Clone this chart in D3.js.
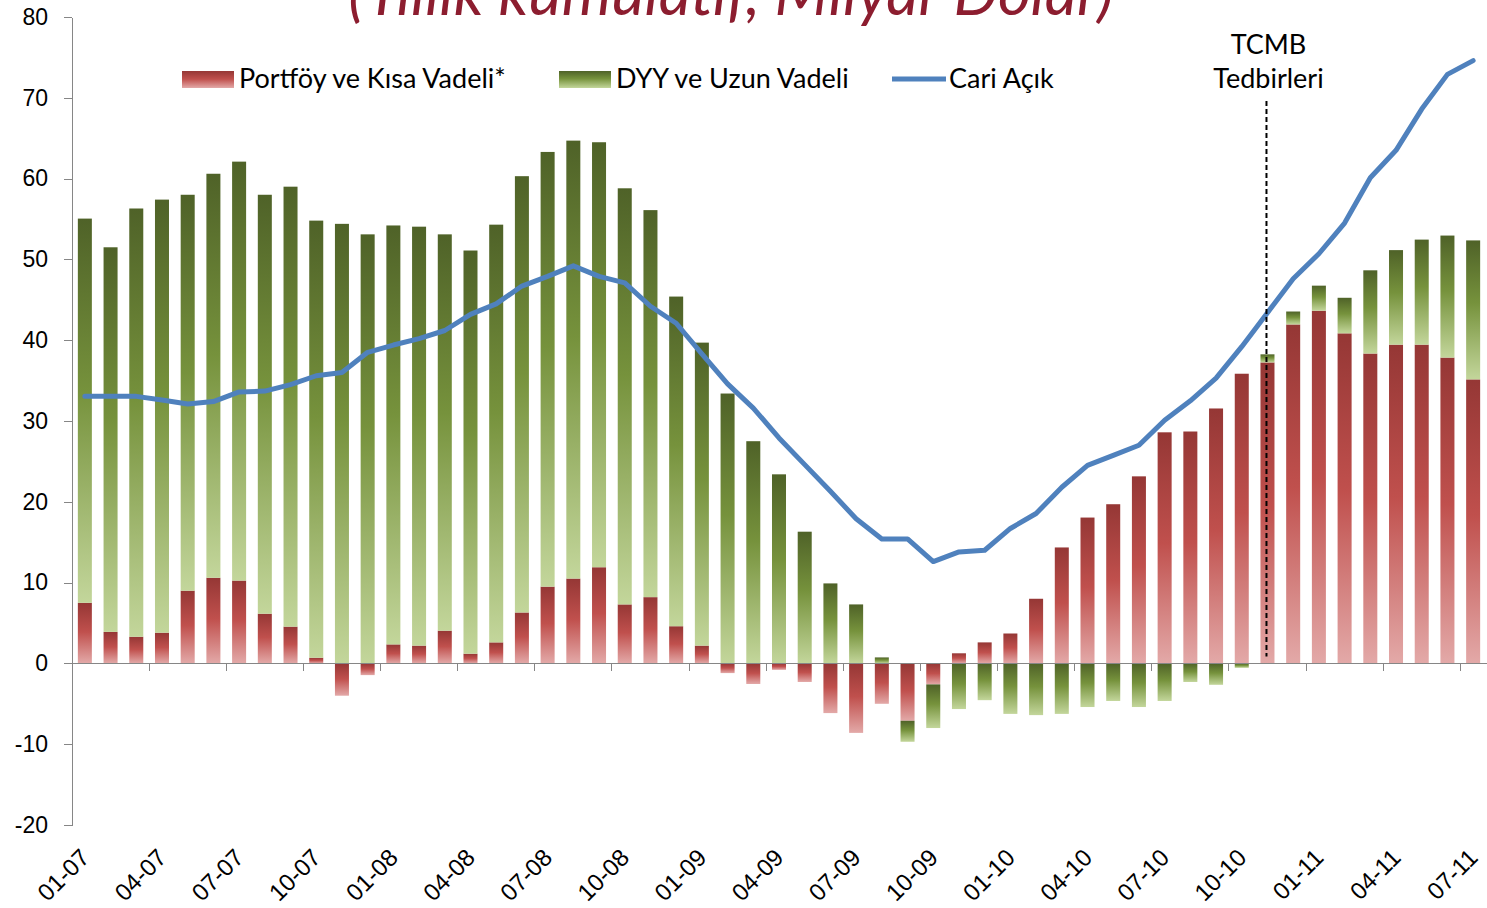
<!DOCTYPE html>
<html>
<head>
<meta charset="utf-8">
<title>Cari Açık ve Finansmanı</title>
<script src="https://d3js.org/d3.v7.min.js"></script>
<style>
    body { margin: 0; background: #fff; }
    svg { display: block; font-family: Lato, "Open Sans", sans-serif; }
    .axis path, .axis line { stroke: #868686; shape-rendering: crispEdges; }
    .axis text { fill: #000; }
</style>
</head>
<body>
<script>
//months on the category axis (MM-YY)
var months = ["01-07", "02-07", "03-07", "04-07", "05-07", "06-07", "07-07", "08-07", "09-07", "10-07", "11-07", "12-07",
    "01-08", "02-08", "03-08", "04-08", "05-08", "06-08", "07-08", "08-08", "09-08", "10-08", "11-08", "12-08",
    "01-09", "02-09", "03-09", "04-09", "05-09", "06-09", "07-09", "08-09", "09-09", "10-09", "11-09", "12-09",
    "01-10", "02-10", "03-10", "04-10", "05-10", "06-10", "07-10", "08-10", "09-10", "10-10", "11-10", "12-10",
    "01-11", "02-11", "03-11", "04-11", "05-11", "06-11", "07-11"];

//series values, billion dollars (12 month cumulative)
var portfoy = [7.5, 3.9, 3.3, 3.8, 9.0, 10.6, 10.25, 6.15, 4.55, 0.7, -4.0, -1.45,
    2.35, 2.2, 4.05, 1.2, 2.6, 6.3, 9.5, 10.5, 11.9, 7.3, 8.2, 4.6,
    2.2, -1.2, -2.55, -0.8, -2.3, -6.15, -8.6, -5.0, -7.1, -2.6, 1.25, 2.6,
    3.7, 8.0, 14.35, 18.05, 19.7, 23.15, 28.6, 28.7, 31.55, 35.85, 37.25, 41.95,
    43.65, 40.85, 38.35, 39.45, 39.45, 37.85, 35.15];
var dyy = [47.55, 47.6, 53.0, 53.6, 49.0, 50.0, 51.85, 51.85, 54.45, 54.1, 54.4, 53.1,
    51.85, 51.85, 49.05, 49.9, 51.7, 54.0, 53.8, 54.2, 52.6, 51.5, 47.9, 40.8,
    37.5, 33.4, 27.5, 23.4, 16.3, 9.9, 7.3, 0.74, -2.6, -5.4, -5.65, -4.55,
    -6.25, -6.4, -6.25, -5.4, -4.65, -5.4, -4.65, -2.3, -2.65, -0.55, 1.0, 1.6,
    3.1, 4.4, 10.3, 11.7, 13.0, 15.1, 17.2];
var cari = [33.05, 33.05, 33.05, 32.6, 32.1, 32.4, 33.6, 33.7, 34.5, 35.6, 36.0, 38.5,
    39.4, 40.2, 41.2, 43.2, 44.5, 46.7, 47.9, 49.2, 47.9, 47.1, 44.2, 42.1,
    38.3, 34.6, 31.6, 27.9, 24.6, 21.3, 17.9, 15.4, 15.4, 12.6, 13.8, 14.0,
    16.7, 18.55, 21.8, 24.5, 25.75, 27.0, 30.1, 32.5, 35.3, 39.2, 43.4, 47.6,
    50.7, 54.5, 60.1, 63.5, 68.6, 72.9, 74.6];

//axis ticks and labels
var yTicks = [-20, -10, 0, 10, 20, 30, 40, 50, 60, 70, 80];
var xLabelMonths = months.filter(function (d, i) { return i % 3 == 0; });
var seriesNames = ["Portföy ve Kısa Vadeli*", "DYY ve Uzun Vadeli", "Cari Açık"];
var titleText = "(Yıllık kümülatif, Milyar Dolar)";
var markerMonth = "11-10";
var markerLines = ["TCMB", "Tedbirleri"];

(function () {

    var width = 1487,
        height = 908;

    var plotLeft = 72,
        plotRight = 1486,
        plotTop = 17,
        plotBottom = 825;

    var svg = d3.select("body")
        .append("svg")
        .attr("width", width)
        .attr("height", height);

    //vertical gradients, dark on top and light at the bottom of each bar
    var defs = svg.append("defs");
    makeGradient(defs, "gradRed", [["0%", "#953735"], ["48%", "#C0504D"], ["100%", "#E3A9A8"]]);
    makeGradient(defs, "gradGreen", [["0%", "#4F6228"], ["45%", "#76923C"], ["100%", "#C3D69B"]]);

    var x = d3.scaleBand()
        .domain(months)
        .range([plotLeft, plotRight])
        .paddingInner(0.455)
        .paddingOuter(0.2275);

    var y = d3.scaleLinear()
        .domain([-20, 80])
        .range([plotBottom, plotTop]);

    //table for the stack layout
    var table = months.map(function (m, i) {
        return { month: m, portfoy: portfoy[i], dyy: dyy[i], cari: cari[i] };
    });

    var stack = d3.stack()
        .keys(["portfoy", "dyy"])
        .offset(d3.stackOffsetDiverging);
    var layers = stack(table);
    var fills = ["url(#gradRed)", "url(#gradGreen)"];

    //title, mostly cut off at the top as in the original
    svg.append("text")
        .attr("x", 731)
        .attr("y", 15)
        .attr("text-anchor", "middle")
        .style("font-size", "63px")
        .style("font-style", "italic")
        .style("fill", "#8C1D2F")
        .text(titleText);

    //y axis
    svg.append("g")
        .attr("class", "axis")
        .attr("transform", "translate(" + plotLeft + ",0)")
        .call(d3.axisLeft(y).tickValues(yTicks).tickSize(8).tickSizeOuter(0).tickPadding(16)
            .tickFormat(function (d) { return String(d); }))
        .call(function (g) {
            g.selectAll("text").style("font-size", "23px");
        });

    //bars
    var layerG = svg.selectAll(".layer")
        .data(layers)
        .enter()
        .append("g")
        .attr("class", "layer")
        .style("fill", function (d, i) { return fills[i]; });

    layerG.selectAll("rect")
        .data(function (d) { return d; })
        .enter()
        .append("rect")
        .attr("x", function (d) { return x(d.data.month); })
        .attr("width", x.bandwidth())
        .attr("y", function (d) { return y(Math.max(d[0], d[1])); })
        .attr("height", function (d) { return Math.abs(y(d[0]) - y(d[1])); });

    //zero line with ticks between category groups
    var step = x.step();
    svg.append("g")
        .attr("class", "axis")
        .attr("transform", "translate(0," + y(0) + ")")
        .call(d3.axisBottom(x).tickValues(xLabelMonths).tickSize(8).tickSizeOuter(0).tickFormat(""))
        .call(function (g) {
            g.selectAll(".tick line").attr("transform", "translate(" + (-step / 2) + ",0)");
        });

    //category labels at the bottom
    svg.append("g")
        .attr("class", "axis")
        .attr("transform", "translate(0," + (plotBottom + 26) + ")")
        .call(d3.axisBottom(x).tickValues(xLabelMonths).tickSize(0))
        .call(function (g) {
            g.select(".domain").remove();
            g.selectAll("text")
                .style("font-size", "24px")
                .attr("text-anchor", "end")
                .attr("dy", "0.35em")
                .attr("transform", "translate(-2,0) rotate(-45)");
        });

    //current account deficit line
    var line = d3.line()
        .x(function (d) { return x(d.month) + x.bandwidth() / 2; })
        .y(function (d) { return y(d.cari); });

    svg.append("path")
        .datum(table)
        .attr("d", line)
        .style("fill", "none")
        .style("stroke", "#4F81BD")
        .style("stroke-width", 5)
        .style("stroke-linejoin", "round")
        .style("stroke-linecap", "round");

    //TCMB measures marker
    var mx = x(markerMonth) + x.bandwidth() / 2 - 1;
    svg.append("line")
        .attr("x1", mx)
        .attr("x2", mx)
        .attr("y1", 101)
        .attr("y2", y(0) - 7)
        .style("stroke", "#000")
        .style("stroke-width", 2)
        .style("stroke-dasharray", "5,3");

    svg.selectAll(".marker")
        .data(markerLines)
        .enter()
        .append("text")
        .attr("class", "marker")
        .attr("x", mx + 2)
        .attr("y", function (d, i) { return 54 + i * 34; })
        .attr("text-anchor", "middle")
        .style("font-size", "27px")
        .text(function (d) { return d; });

    //legend
    var legend = svg.append("g").attr("class", "legend");
    var legendX = [182, 559, 892];
    seriesNames.forEach(function (name, i) {
        var item = legend.append("g").attr("transform", "translate(" + legendX[i] + ",0)");
        if (i < 2) {
            item.append("rect")
                .attr("x", 0)
                .attr("y", 71)
                .attr("width", 52)
                .attr("height", 17)
                .style("fill", fills[i]);
        } else {
            item.append("line")
                .attr("x1", 0)
                .attr("x2", 54)
                .attr("y1", 79)
                .attr("y2", 79)
                .style("stroke", "#4F81BD")
                .style("stroke-width", 5);
        }
        item.append("text")
            .attr("x", 57)
            .attr("y", 88)
            .style("font-size", "27px")
            .text(name);
    });

    function makeGradient(defs, id, stops) {
        var g = defs.append("linearGradient")
            .attr("id", id)
            .attr("x1", 0).attr("y1", 0)
            .attr("x2", 0).attr("y2", 1);
        stops.forEach(function (s) {
            g.append("stop").attr("offset", s[0]).attr("stop-color", s[1]);
        });
    }

})();
</script>
</body>
</html>
